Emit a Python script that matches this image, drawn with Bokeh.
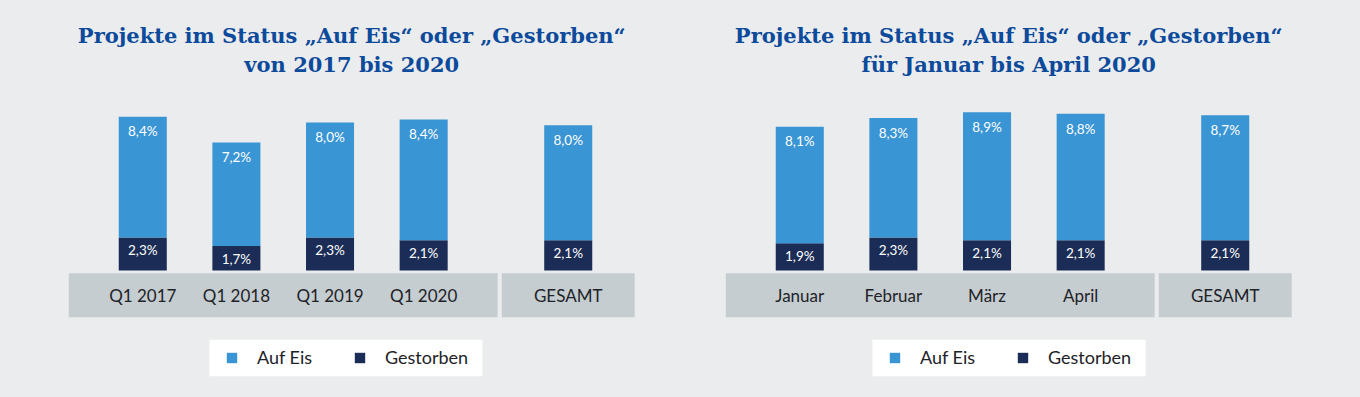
from bokeh.plotting import figure
from bokeh.models import FactorRange, Range1d, ColumnDataSource, Legend, LegendItem, Label
from bokeh.layouts import row
from bokeh.embed import file_html
from bokeh.resources import INLINE
from bokeh.core.properties import value

# ---------------- data ----------------
series_names = ["Auf Eis", "Gestorben"]
total_label = "GESAMT"

left_title = ["Projekte im Status \u201eAuf Eis\u201c oder \u201eGestorben\u201c", "von 2017 bis 2020"]
left_categories = ["Q1 2017", "Q1 2018", "Q1 2019", "Q1 2020"]
left_auf_eis = [8.4, 7.2, 8.0, 8.4]
left_gestorben = [2.3, 1.7, 2.3, 2.1]
left_total_auf_eis = 8.0
left_total_gestorben = 2.1

right_title = ["Projekte im Status \u201eAuf Eis\u201c oder \u201eGestorben\u201c", "f\u00fcr Januar bis April 2020"]
right_categories = ["Januar", "Februar", "M\u00e4rz", "April"]
right_auf_eis = [8.1, 8.3, 8.9, 8.8]
right_gestorben = [1.9, 2.3, 2.1, 2.1]
right_total_auf_eis = 8.7
right_total_gestorben = 2.1

# ---------------- style ----------------
BG = "#ebeced"
LIGHT = "#3a95d4"
DARK = "#1b2d56"
BAND = "#c5cdd0"
TITLE = "#0c4a9b"
LABEL = "#1e2328"

GP = 0.544      # group gap
RP = 0.699      # range padding (absolute)
FRAME_W = 650
H = 397
Y0, Y1 = -8.832, 18.776


def fmt(v):
    return ("%.1f" % v).replace(".", ",") + "%"


def make_panel(title, cats, eis, gest, t_eis, t_gest, width, mbl, mbr, legend_px):
    factors = [("A", c) for c in cats] + [("B", total_label)]
    xr = FactorRange(*factors, factor_padding=0, group_padding=GP,
                     range_padding=RP, range_padding_units="absolute")
    p = figure(x_range=xr, y_range=Range1d(Y0, Y1), width=width, height=H,
               output_backend="svg", toolbar_location=None,
               x_axis_location=None, y_axis_location=None,
               min_border=0, min_border_left=mbl, min_border_right=mbr,
               background_fill_color=BG, border_fill_color=BG,
               outline_line_color=None)
    p.xgrid.grid_line_color = None
    p.ygrid.grid_line_color = None

    n = len(cats)
    total_units = n + 1 + GP
    scale = FRAME_W / (total_units + 2 * RP)

    # grey bands behind the category labels
    band = ColumnDataSource(dict(
        left=[("A", cats[0], -0.79), ("B", total_label, -0.71)],
        right=[("A", cats[-1], 0.79), ("B", total_label, 0.71)],
    ))
    p.quad(left="left", right="right", top=-0.19, bottom=-3.25,
           source=band, fill_color=BAND, line_color=None)

    all_eis = list(eis) + [t_eis]
    all_gest = list(gest) + [t_gest]
    src = ColumnDataSource(dict(
        x=factors,
        gest=all_gest,
        eis=all_eis,
        top=[g + e for g, e in zip(all_gest, all_eis)],
        gest_lbl=[fmt(v) for v in all_gest],
        eis_lbl=[fmt(v) for v in all_eis],
        cat=list(cats) + [total_label],
    ))
    rs = p.vbar_stack(["gest", "eis"], x="x", width=0.513, source=src,
                      fill_color=[DARK, LIGHT], line_color=None)

    p.text(x="x", y="gest", text="gest_lbl", source=src, y_offset=12.5,
           text_align="center", text_baseline="middle", text_color="white",
           text_font=value("Lato"), text_font_size="13.5px")
    p.text(x="x", y="top", text="eis_lbl", source=src, y_offset=14.8,
           text_align="center", text_baseline="middle", text_color="white",
           text_font=value("Lato"), text_font_size="13.5px")
    p.text(x="x", y=-1.74, text="cat", source=src,
           text_align="center", text_baseline="middle", text_color=LABEL,
           text_font=value("Lato"), text_font_size="17px")

    # titles
    xc = ((0.5 - 0.79) + (n + 0.5 + GP + 0.71)) / 2
    for i, line in enumerate(title):
        p.add_layout(Label(x=xc, y=16.37 - i * 2.02, text=line,
                           text_align="center", text_baseline="alphabetic",
                           text_font="DejaVu Serif", text_font_style="bold",
                           text_font_size="21px", text_color=TITLE))

    # legend box
    box_l = (legend_px - 16) / scale - RP
    box_r = (legend_px - 16 + 273) / scale - RP
    p.quad(left=box_l, right=box_r, top=-4.82, bottom=-7.35,
           fill_color="white", line_color=None)

    legend = Legend(items=[LegendItem(label=series_names[0], renderers=[rs[1]]),
                           LegendItem(label=series_names[1], renderers=[rs[0]])],
                    orientation="horizontal", location=(legend_px, 29),
                    padding=0, margin=0, spacing=36, glyph_width=13, glyph_height=13,
                    label_standoff=19, label_width=60, label_height=13,
                    label_text_font="Lato", label_text_font_size="18px",
                    label_text_color=LABEL,
                    background_fill_alpha=0, border_line_color=None)
    p.add_layout(legend)
    return p


left = make_panel(left_title, left_categories, left_auf_eis, left_gestorben,
                  left_total_auf_eis, left_total_gestorben, 680, 30, 0, 195)
right = make_panel(right_title, right_categories, right_auf_eis, right_gestorben,
                   right_total_auf_eis, right_total_gestorben, 680, 7, 23, 201)

layout = row(left, right, spacing=0)
layout.styles = {"background-color": BG}
open("out.html", "w").write(file_html(layout, INLINE))
